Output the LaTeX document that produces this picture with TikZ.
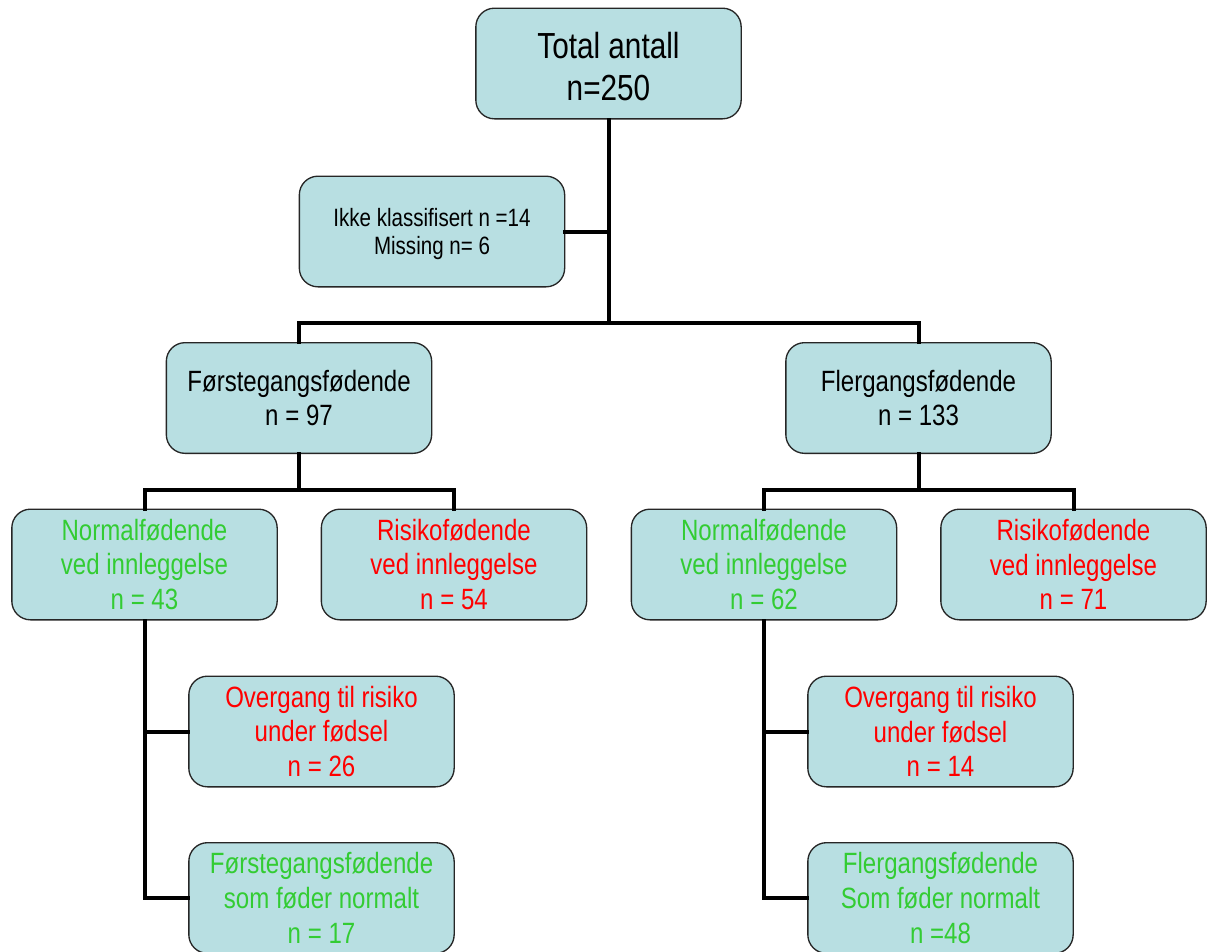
\documentclass[tikz,border=0pt]{standalone}
\usepackage{fontspec}
\setmainfont{Liberation Sans}[FakeStretch=0.82]
\definecolor{boxfill}{RGB}{184,223,226}
\definecolor{okgreen}{RGB}{51,204,51}
\definecolor{riskred}{RGB}{255,0,0}
\begin{document}
\begin{tikzpicture}[x=0.75pt,y=-0.75pt,
  box/.style={draw=black!85, line width=1pt, fill=boxfill, rounded corners=14pt,
    minimum width=199pt, minimum height=83pt, inner sep=0pt, align=center,
    font=\fontsize{22pt}{26pt}\selectfont},
  big/.style={font=\fontsize{27.2pt}{31.5pt}\selectfont},
  small/.style={font=\fontsize{18.8pt}{21pt}\selectfont},
  green/.style={text=okgreen},
  red/.style={text=riskred},
  conn/.style={line width=3pt, line cap=rect}]
\useasboundingbox (0,0) rectangle (1208,951);
\node[box,big] (tot) at (608.5,63.5) {\rule{0pt}{24pt}Total antall\\n=250};
\node[box,small] (ikke) at (432,231.5) {\rule{0pt}{17.8pt}Ikke klassifisert n =14\\Missing n= 6};
\node[box] (forst) at (299,398) {Førstegangsfødende\\n = 97};
\node[box] (fler) at (918.5,398) {Flergangsfødende\\n = 133};
\node[box,green] (nl) at (144.5,564.5) {Normalfødende\\ved innleggelse\\n = 43};
\node[box,red] (rl) at (454,564.5) {Risikofødende\\ved innleggelse\\n = 54};
\node[box,green] (nr) at (764,564.5) {Normalfødende\\ved innleggelse\\n = 62};
\node[box,red] (rr) at (1073.5,564.5) {Risikofødende\\ved innleggelse\\n = 71};
\node[box,red] (ol) at (321.5,731.5) {Overgang til risiko\\under fødsel\\n = 26};
\node[box,green] (fl) at (321.5,898) {Førstegangsfødende\\som føder normalt\\n = 17};
\node[box,red] (or) at (940.5,731.5) {Overgang til risiko\\under fødsel\\n = 14};
\node[box,green] (fr) at (940.5,898) {Flergangsfødende\\Som føder normalt\\n =48};
% junction coordinates
\coordinate (j0) at (608.5,323);
\coordinate (jl) at (299,490);
\coordinate (jr) at (918.5,490);
\draw[conn] (tot.south) -- (j0);
\draw[conn] (ikke.east) -- (ikke.east -| j0);
\draw[conn] (forst.north) |- (j0) -| (fler.north);
\draw[conn] (forst.south) -- (jl);
\draw[conn] (nl.north) |- (jl) -| (rl.north);
\draw[conn] (fler.south) -- (jr);
\draw[conn] (nr.north) |- (jr) -| (rr.north);
\draw[conn] (ol.west) -| (nl.south);
\draw[conn] (fl.west) -| (nl.south);
\draw[conn] (or.west) -| (nr.south);
\draw[conn] (fr.west) -| (nr.south);
\end{tikzpicture}
\end{document}
